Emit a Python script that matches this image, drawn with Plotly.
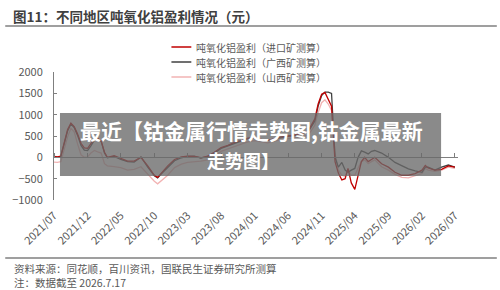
import plotly.graph_objects as go

# ---------------- data ----------------
dates = [
    "2021-07-01", "2021-07-16", "2021-08-01", "2021-08-16", "2021-09-01", "2021-09-16",
    "2021-10-01", "2021-10-16", "2021-11-01", "2021-11-16", "2021-12-01", "2021-12-16",
    "2022-01-01", "2022-01-16", "2022-02-01", "2022-02-16", "2022-03-01", "2022-04-01",
    "2022-05-01", "2022-06-01", "2022-07-01", "2022-08-01", "2022-09-01", "2022-10-01",
    "2022-10-16", "2022-11-01", "2022-12-01", "2023-01-01", "2023-02-01", "2023-03-01",
    "2023-04-01", "2023-05-01", "2023-06-01", "2023-07-01", "2023-08-01", "2023-09-01",
    "2023-10-01", "2023-11-01", "2023-12-01", "2024-01-01", "2024-02-01", "2024-03-01",
    "2024-04-01", "2024-05-01", "2024-06-01", "2024-07-01", "2024-08-01", "2024-09-01",
    "2024-10-01", "2024-10-16", "2024-11-01", "2024-11-16", "2024-12-01", "2024-12-16",
    "2025-01-01", "2025-01-16", "2025-02-01", "2025-02-16", "2025-03-01", "2025-03-16",
    "2025-04-01", "2025-04-16", "2025-05-01", "2025-05-16", "2025-06-01", "2025-06-16",
    "2025-07-01", "2025-08-01", "2025-09-01", "2025-10-01", "2025-11-01", "2025-12-01",
    "2026-01-01", "2026-02-01", "2026-02-16", "2026-03-01", "2026-04-01", "2026-05-01",
    "2026-06-01", "2026-07-01",
]
profit_import = [
    20, 10, 30, 350, 650, 800,
    720, 550, 330, 220, 210, 320,
    430, 450, 380, 120, 0, 40,
    -30, -90, -90, 0, -200, -420,
    -470, -370, -200, -50, 10, 30,
    20, -10, 30, 120, 230, 280,
    350, 400, 450, 470, 420, 400,
    440, 480, 500, 520, 550, 620,
    900, 1250, 1480, 1520, 1350, 1200,
    -100, -370, -530, -500, -260, -600,
    -750, -450, -100, 0, -100, -50,
    0, -150, -230, -350, -420, -420,
    -380, -300, -190, -250, -300, -280,
    -200, -230,
]
profit_guangxi = [
    20, 0, 20, 330, 620, 780,
    700, 520, 280, 170, 160, 270,
    400, 440, 370, 100, -10, 20,
    -50, -100, -110, 10, -230, -430,
    -480, -390, -230, -80, -10, 20,
    30, -20, 20, 100, 210, 270,
    330, 390, 440, 460, 410, 400,
    430, 470, 490, 510, 540, 600,
    850, 1200, 1450, 1530, 1530, 1500,
    0, -230, -120, -300, -350, -300,
    -260, 0, 150, 120, 80, 140,
    160, 100, 0, -120, -200, -270,
    -320, -350, -230, -230, -300, -230,
    -180, -230,
]
profit_shanxi = [
    -110, -120, -100, 180, 480, 680,
    600, 320, 60, 0, 10, 100,
    160, 130, 100, -150, -200, -220,
    -240, -300, -280, -220, -400, -560,
    -620, -550, -420, -240, -160, -120,
    -110, -90, -60, 40, 140, 200,
    260, 310, 360, 390, 360, 340,
    380, 420, 440, 460, 480, 520,
    750, 1050, 1280, 1350, 1250, 1100,
    100, -300, -420, -450, -300, -420,
    -420, -250, -100, -60, -150, -100,
    -60, -220, -300, -400, -470, -480,
    -430, -380, -260, -300, -330, -300,
    -230, -260,
]
series_names = [
    "吨氧化铝盈利（进口矿测算）",
    "吨氧化铝盈利（广西矿测算）",
    "吨氧化铝盈利（山西矿测算）",
]
series_colors = ["#c00000", "#404040", "#f2b3b3"]
y_ticks = [-1000, -500, 0, 500, 1000, 1500, 2000]

title_text = "图11：不同地区吨氧化铝盈利情况（元）"
source_text = "资料来源：同花顺，百川资讯，国联民生证券研究所测算"
note_text = "注：数据截至 2026.7.17"
overlay_line1 = "最近【钴金属行情走势图,钴金属最新"
overlay_line2 = "走势图】"

# ---------------- layout geometry ----------------
W, H = 500, 290
L, R, T, B = 52, 42, 72, 90
PW, PH = W - L - R, H - T - B
FONT = "Noto Sans CJK SC"


def px(xp):
    return (xp - L) / PW


def py(yp):
    return (H - B - yp) / PH


fig = go.Figure()
# draw pink first so red/gray are on top
order = [2, 1, 0]
all_vals = [profit_import, profit_guangxi, profit_shanxi]
for i in order:
    fig.add_trace(go.Scatter(
        x=dates, y=all_vals[i], mode="lines", name=series_names[i],
        line=dict(color=series_colors[i], width=1.3), showlegend=False,
        xaxis="x", yaxis="y",
    ))
# invisible trace to realize the secondary (zero-line) x axis
fig.add_trace(go.Scatter(x=[dates[0]], y=[0], mode="markers", opacity=0,
                         xaxis="x2", yaxis="y", showlegend=False, hoverinfo="skip"))

shapes = []
annotations = []

# title & rules
annotations.append(dict(text="<b>" + title_text + "</b>", x=px(9), y=py(16), xref="paper", yref="paper",
                        xanchor="left", yanchor="middle", showarrow=False,
                        font=dict(family=FONT, size=13.5, color="#404040")))
shapes.append(dict(type="line", xref="paper", yref="paper", x0=px(3), x1=px(497), y0=py(26), y1=py(26),
                   line=dict(color="#7f7f7f", width=1.5)))
shapes.append(dict(type="line", xref="paper", yref="paper", x0=px(3), x1=px(497), y0=py(258), y1=py(258),
                   line=dict(color="#7f7f7f", width=1.5)))
annotations.append(dict(text=source_text, x=px(10), y=py(268), xref="paper", yref="paper",
                        xanchor="left", yanchor="middle", showarrow=False,
                        font=dict(family=FONT, size=10.5, color="#595959")))
annotations.append(dict(text=note_text, x=px(10), y=py(282), xref="paper", yref="paper",
                        xanchor="left", yanchor="middle", showarrow=False,
                        font=dict(family=FONT, size=10.5, color="#595959")))

# legend (manual)
leg_y = [47, 62, 77]
for i in range(3):
    shapes.append(dict(type="line", xref="paper", yref="paper", x0=px(170), x1=px(190),
                       y0=py(leg_y[i]), y1=py(leg_y[i]),
                       line=dict(color=series_colors[i], width=1.5)))
    annotations.append(dict(text=series_names[i], x=px(193), y=py(leg_y[i]), xref="paper", yref="paper",
                            xanchor="left", yanchor="middle", showarrow=False,
                            font=dict(family=FONT, size=10, color="#595959")))

# overlay banner
shapes.append(dict(type="rect", xref="paper", yref="paper", x0=px(58), x1=px(441), y0=py(176), y1=py(113),
                   fillcolor="rgba(105,105,105,0.78)", line=dict(width=0), layer="above"))
annotations.append(dict(text="<b>" + overlay_line1 + "</b>", x=px(250), y=py(130), xref="paper", yref="paper",
                        xanchor="center", yanchor="middle", showarrow=False,
                        font=dict(family=FONT, size=21, color="#ffffff")))
annotations.append(dict(text="<b>" + overlay_line2 + "</b>", x=px(242), y=py(160), xref="paper", yref="paper",
                        xanchor="center", yanchor="middle", showarrow=False,
                        font=dict(family=FONT, size=18, color="#ffffff")))

x_range = ["2021-07-01", "2026-07-15"]
zero_pos = (0 - y_ticks[0]) / (y_ticks[-1] - y_ticks[0])

fig.update_layout(
    width=W, height=H,
    margin=dict(l=L, r=R, t=T, b=B, pad=0),
    paper_bgcolor="white", plot_bgcolor="white",
    font=dict(family=FONT, color="#595959"),
    showlegend=False,
    shapes=shapes, annotations=annotations,
    xaxis=dict(type="date", range=x_range, tick0="2021-07-01", dtick="M5", tickformat="%Y/%m",
               tickangle=-45, showgrid=False, showline=False, ticks="", zeroline=False,
               ticklabelstandoff=6,
               tickfont=dict(family=FONT, size=11, color="#595959")),
    xaxis2=dict(type="date", overlaying="x", matches="x", anchor="free", position=zero_pos, side="top",
                tick0="2021-07-01", dtick="M5", ticks="outside", ticklen=4, tickcolor="#7f7f7f",
                showline=True, linecolor="#7f7f7f", linewidth=1, showticklabels=False, showgrid=False,
                zeroline=False),
    yaxis=dict(range=[y_ticks[0], y_ticks[-1]], tickvals=y_ticks, showgrid=False, zeroline=False,
               showline=True, linecolor="#7f7f7f", linewidth=1, ticks="inside", ticklen=3,
               tickcolor="#7f7f7f", ticklabelstandoff=8,
               tickfont=dict(family=FONT, size=11, color="#595959")),
)

fig.write_html("out.html")
